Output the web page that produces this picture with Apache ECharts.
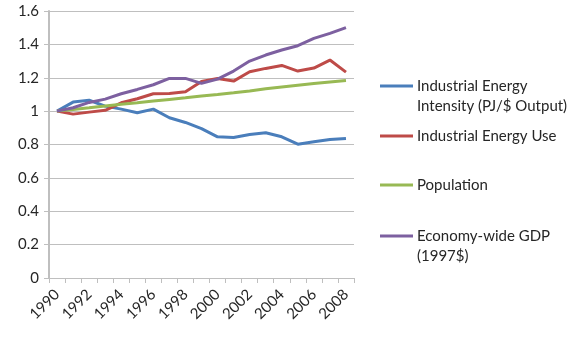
<!DOCTYPE html>
<html lang="en">
<head>
    <meta charset="UTF-8">
    <title>Industrial energy indices</title>
    <style>
        body {
            margin: 0;
            background: #fff;
        }
        #chart {
            width: 580px;
            height: 340px;
        }
    </style>
</head>
<body>
    <div id="chart"></div>
    <script src="https://cdn.jsdelivr.net/npm/echarts@6/dist/echarts.min.js"></script>
    <script>
        const years = ['1990', '1991', '1992', '1993', '1994', '1995', '1996', '1997', '1998', '1999',
            '2000', '2001', '2002', '2003', '2004', '2005', '2006', '2007', '2008'];
        const intensity = [1.0, 1.054, 1.065, 1.03, 1.012, 0.99, 1.012, 0.96, 0.932, 0.895,
            0.846, 0.842, 0.86, 0.87, 0.846, 0.802, 0.816, 0.83, 0.836];
        const energyUse = [1.0, 0.982, 0.994, 1.005, 1.05, 1.074, 1.104, 1.106, 1.116, 1.178,
            1.196, 1.18, 1.236, 1.256, 1.274, 1.24, 1.258, 1.306, 1.234];
        const population = [1.0, 1.01, 1.02, 1.031, 1.041, 1.05, 1.06, 1.07, 1.08, 1.091,
            1.1, 1.11, 1.121, 1.134, 1.145, 1.155, 1.165, 1.175, 1.184];
        const gdp = [1.0, 1.02, 1.052, 1.072, 1.104, 1.13, 1.158, 1.196, 1.196, 1.166,
            1.192, 1.24, 1.3, 1.336, 1.366, 1.392, 1.436, 1.466, 1.5];
        const yTicks = { min: 0, max: 1.6, interval: 0.2 };

        const names = {
            intensity: 'Industrial Energy\nIntensity (PJ/$ Output)',
            use: 'Industrial Energy Use',
            pop: 'Population',
            gdp: 'Economy-wide GDP\n(1997$)',
        };
        const font = 'Lato, "Open Sans", sans-serif';

        // two-line entries get an empty first line so the key sits on the first text line
        function legendAt(name, top, twoLines) {
            return {
                data: [name],
                orient: 'vertical',
                left: 380,
                top: top,
                padding: 0,
                itemWidth: 33,
                itemHeight: 3,
                itemGap: 0,
                icon: 'rect',
                selectedMode: false,
                formatter: n => (twoLines ? '\n' + n : n),
                textStyle: {
                    fontFamily: font,
                    fontSize: 15,
                    color: '#262626',
                    lineHeight: 20,
                    padding: [0, 0, 0, -1],
                },
            };
        }

        const chart = echarts.init(document.getElementById('chart'));
        chart.setOption({
            animation: false,
            color: ['#4a7ebb', '#be4b48', '#98b954', '#7d60a0'],
            textStyle: { fontFamily: font },
            grid: { left: 49, right: 226, top: 11, bottom: 62 },
            legend: [
                legendAt(names.intensity, 56, true),
                legendAt(names.use, 126, false),
                legendAt(names.pop, 175, false),
                legendAt(names.gdp, 206, true),
            ],
            xAxis: {
                type: 'category',
                data: years,
                boundaryGap: true,
                axisLine: { lineStyle: { color: '#bfbfbf', width: 1 } },
                axisTick: { show: true, interval: 0, length: 5, lineStyle: { color: '#bfbfbf' } },
                axisLabel: {
                    interval: 1,
                    rotate: 45,
                    fontSize: 15,
                    color: '#262626',
                    margin: 14,
                },
            },
            yAxis: {
                type: 'value',
                min: yTicks.min,
                max: yTicks.max,
                interval: yTicks.interval,
                axisLine: { show: true, lineStyle: { color: '#bfbfbf', width: 2 } },
                axisTick: { show: true, length: 5, lineStyle: { color: '#bfbfbf' } },
                splitLine: { lineStyle: { color: '#bfbfbf', width: 1 } },
                axisLabel: {
                    fontSize: 15,
                    color: '#262626',
                    margin: 10,
                    formatter: v => String(Math.round(v * 10) / 10),
                },
            },
            series: [
                { name: names.intensity, type: 'line', data: intensity },
                { name: names.use, type: 'line', data: energyUse },
                { name: names.pop, type: 'line', data: population },
                { name: names.gdp, type: 'line', data: gdp },
            ].map(s => Object.assign(s, {
                symbol: 'none',
                lineStyle: { width: 3 },
            })),
        });
    </script>
</body>
</html>
